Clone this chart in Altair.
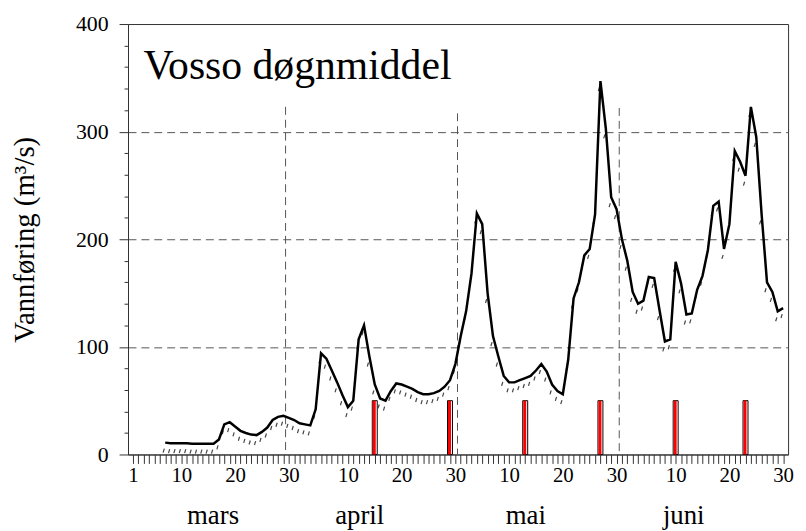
import altair as alt
import pandas as pd

# ---- data (day index: 0 = 1 March) ----
chart_title = "Vosso døgnmiddel"
y_title = "Vannføring (m³/s)"
first_day = 6  # 7 March
flow = [11, 10.5, 10.5, 10.5, 10.5, 10, 10, 10, 10, 10,
        14, 28, 30, 26, 22, 20, 18.5, 18, 21, 25,
        32, 35, 36, 34, 32, 29, 28, 27, 42, 94,
        89, 78, 67, 55, 44, 50, 107, 120, 91, 65,
        52, 50, 59, 66, 65, 63, 61, 58, 56, 56,
        57, 59, 63, 69, 84, 110, 133, 168, 224, 214,
        150, 110, 91, 73, 67, 67, 69, 71, 73, 78,
        84, 77, 65, 59, 56, 88, 145, 160, 185, 191,
        223, 347, 303, 239, 228, 200, 180, 151, 140, 143,
        165, 164, 134, 105, 107, 179, 159, 130, 131, 153,
        166, 190, 231, 235, 191, 214, 282, 272, 259, 323,
        295, 223, 160, 151, 133, 136]
days = list(range(first_day, first_day + len(flow)))

bar_days = [45, 59, 73, 87, 101, 114]
bar_values = [50, 50, 50, 50, 50, 50]

vline_days = [28.4, 60.4, 90.5]
vline_tops = [323, 317, 322]

month_names = ["mars", "april", "mai", "juni"]
month_label_days = [14.9, 42.2, 73.1, 102.5]

x_label_days = [0, 9, 19, 29, 40, 50, 60, 70, 80, 90, 101, 111, 121]
y_ticks = list(range(0, 401, 20))

df = pd.DataFrame({"day": days, "flow": flow})
bdf = pd.DataFrame({"day": bar_days, "h": bar_values})
rdf = pd.DataFrame({"day": vline_days, "top": vline_tops})
mdf = pd.DataFrame({"day": month_label_days, "month": month_names})
tdf = pd.DataFrame({"t": [chart_title]})

FONT = "Liberation Serif"
xs = alt.Scale(domain=[0, 121], nice=False, zero=False)
ys = alt.Scale(domain=[0, 400], nice=False, zero=True)

label_expr = (f"indexof({x_label_days}, datum.value) >= 0 ? "
              "'' + date(datetime(2023, 2, 1 + datum.value)) : ''")
x_axis = alt.Axis(values=list(range(0, 122)), labelExpr=label_expr,
                  labelOverlap=False, labelFlush=False, tickSize=9,
                  tickColor="#333", domainColor="#333", labelFontSize=21,
                  labelColor="black", labelPadding=1, grid=False, title=None,
                  labelFont=FONT)

major = "datum.value % 100 === 0"
inner = "datum.value % 100 === 0 && datum.value > 0 && datum.value < 400"
y_axis = alt.Axis(
    values=y_ticks, orient="left",
    tickSize={"condition": {"test": major, "value": 9}, "value": 4},
    labelExpr=f"{major} ? datum.label : ''", labelOverlap=False,
    labelFontSize=22, labelPadding=11,
    grid=True, gridDash=[8, 5], gridColor="#555", gridWidth=1,
    gridOpacity={"condition": {"test": inner, "value": 1}, "value": 0},
    title=y_title, titleFontSize=29, titleFontWeight="normal",
    titlePadding=36, domainColor="#333", tickColor="#333",
    labelColor="black", titleColor="black", labelFont=FONT, titleFont=FONT)

X = alt.X("day:Q", scale=xs, axis=x_axis)

rules = alt.Chart(rdf).mark_rule(color="#555", strokeDash=[8, 5], strokeWidth=1).encode(
    x=X,
    y=alt.Y("top:Q", scale=ys, axis=y_axis),
    y2=alt.datum(0),
)

bars_bg = alt.Chart(bdf).mark_bar(size=5, color="white", stroke="black", strokeWidth=1).encode(
    x=X,
    y=alt.Y("h:Q", scale=ys, axis=y_axis),
    y2=alt.datum(0),
)
bars_red = alt.Chart(bdf).mark_bar(size=3, color="red", xOffset=-0.5).encode(
    x=X,
    y=alt.Y("h:Q", scale=ys, axis=y_axis),
    y2=alt.datum(0),
)

hashes = alt.Chart(df).mark_point(shape="M0.3,-1L-0.3,1", filled=False, size=16,
                                  color="#444", strokeWidth=1.2, opacity=1,
                                  xOffset=-1.5, yOffset=8).encode(
    x=X,
    y=alt.Y("flow:Q", scale=ys, axis=y_axis),
)

line = alt.Chart(df).mark_line(color="black", strokeWidth=2.5).encode(
    x=X,
    y=alt.Y("flow:Q", scale=ys, axis=y_axis),
)

title = alt.Chart(tdf).mark_text(align="left", baseline="alphabetic", fontSize=42,
                                 font=FONT, color="black").encode(
    text="t:N", x=alt.value(15.5), y=alt.value(55))

months = alt.Chart(mdf).mark_text(align="center", baseline="alphabetic", fontSize=27,
                                  font=FONT, color="black").encode(
    x=X, y=alt.value(504), text="month:N")

chart = alt.layer(rules, bars_bg, bars_red, hashes, line, title, months).properties(
    width=665.5, height=434,
    autosize=alt.AutoSizeParams(type="none"),
    padding={"left": 121, "top": 14, "right": 10, "bottom": 75},
).configure(font=FONT).configure_view(stroke="#333", strokeWidth=1)

chart.save("out.html", embed_options={"renderer": "svg", "actions": False})
